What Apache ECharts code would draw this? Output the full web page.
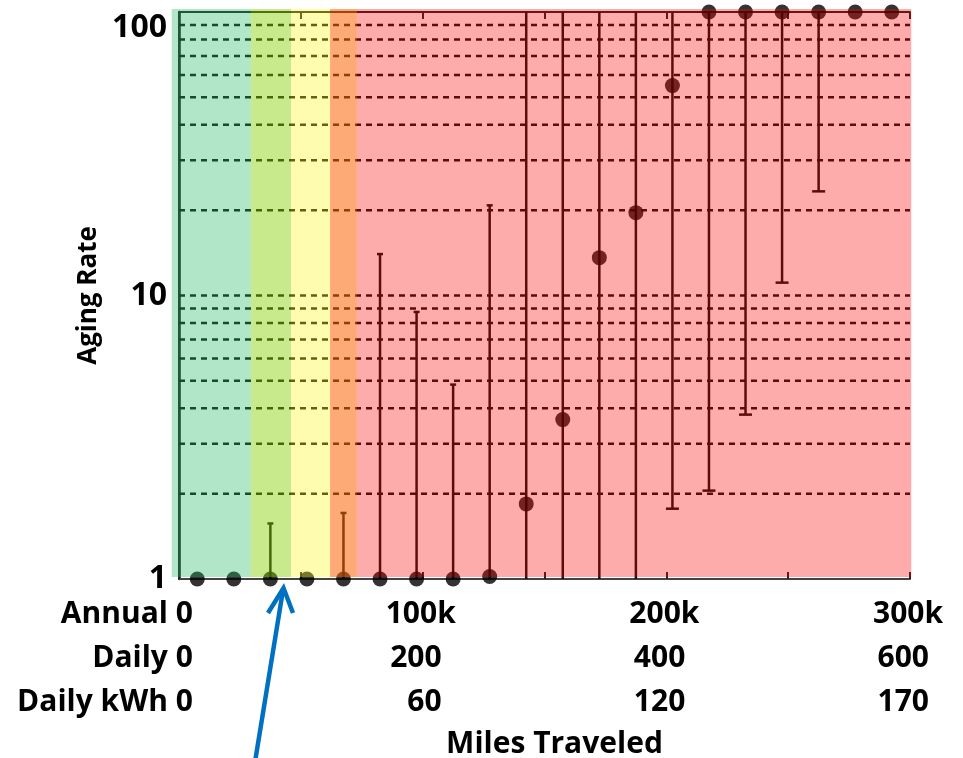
<!DOCTYPE html>
<html><head><meta charset="utf-8">
<script src="https://cdn.jsdelivr.net/npm/echarts@6/dist/echarts.min.js"></script>
<style>html,body{margin:0;padding:0;background:#fff}#c{width:963px;height:758px}</style>
</head><body><div id="c"></div>
<script>
// Miles traveled per year (thousands), bin centres
const milesK = [7.5,22.5,37.5,52.5,67.5,82.5,97.5,112.5,127.5,142.5,157.5,172.5,187.5,202.5,217.5,232.5,247.5,262.5,277.5,292.5];
const agingRate = [1,1,1,1,1,1,1,1,1.02,1.84,3.65,13.6,19.6,55,100,100,100,100,100,100];
const upperBound = [1,1,1.57,1,1.71,14,8.75,4.85,20.8,100,100,100,100,100,100,100,100,100,100,100];
const lowerBound = [1,1,1,1,1,1,1,1,1,1,1,1,1,1.77,2.05,3.8,11.1,23.3,100,100];
// tick label rows (at 0, 100k, 200k, 300k)
const annualLabels = ['0','100k','200k','300k'];
const dailyLabels = ['0','200','400','600'];
const kwhLabels = ['0','60','120','170'];
const yTickLabels = ['1','10','100'];
const gridValues = [2,3,4,5,6,7,8,9,10,20,30,40,50,60,70,80,90];
// colour zones (thousand miles)
const zoneStartK = [-3, 29.5, 46, 62, 73];
const zoneEndK = [29.5, 46, 62, 73, 300.5];
const zoneColors = ['rgba(35,184,101,0.35)','rgba(135,208,0,0.45)','rgba(252,250,26,0.35)','rgba(251,100,6,0.55)','rgba(249,0,0,0.33)'];

const FONT = 'Open Sans';
const txt = {fontFamily: FONT, fontWeight: 'bold', fontSize: 30, color: '#000', lineHeight: 44};

const chart = echarts.init(document.getElementById('c'), null, {renderer: 'canvas'});
chart.setOption({
  animation: false,
  grid: {left: 179, right: 53, top: 12, bottom: 179, outerBoundsMode: 'none'},
  xAxis: [{
    type: 'value', min: 0, max: 300, interval: 50, position: 'bottom',
    axisLine: {show: true, lineStyle: {color: '#444', width: 2}},
    axisTick: {show: true, inside: true, length: 7, lineStyle: {color: '#222', width: 2}},
    splitLine: {show: false},
    axisLabel: {
      margin: 13, ...txt,
      formatter: function (v) {
        if (v % 100 !== 0) return '';
        const i = v / 100;
        if (i === 0) {
          return '{z|Annual ' + annualLabels[0] + '}{p| }\n{z|Daily ' + dailyLabels[0] + '}{p| }\n{z|Daily kWh ' + kwhLabels[0] + '}{p| }';
        }
        return '{a|' + annualLabels[i] + '}\n{b|' + dailyLabels[i] + '}{s| }\n{b|' + kwhLabels[i] + '}{s| }';
      },
      rich: {
        z: {...txt, align: 'right'},
        p: {...txt, width: 148, align: 'right'},
        a: {...txt, width: 74, align: 'left'},
        b: {...txt, align: 'right'},
        s: {...txt, width: 18, align: 'right'}
      }
    },
    name: 'Miles Traveled', nameLocation: 'middle', nameGap: 150,
    nameTextStyle: {fontFamily: FONT, fontWeight: 'bold', fontSize: 30, color: '#000', padding: [0, 0, 0, 20]}
  }, {
    type: 'value', min: 0, max: 300, interval: 50, position: 'top',
    axisLine: {show: true, lineStyle: {color: '#222', width: 2}},
    axisTick: {show: true, inside: true, length: 7, lineStyle: {color: '#222', width: 2}},
    axisLabel: {show: false}, splitLine: {show: false}
  }],
  yAxis: [{
    type: 'log', logBase: 10, min: 1, max: 100,
    axisLine: {show: true, lineStyle: {color: '#111', width: 2.5}},
    axisTick: {show: false}, splitLine: {show: false}, minorTick: {show: false},
    axisLabel: {margin: 12, fontFamily: FONT, fontWeight: 'bold', fontSize: 32, color: '#000',
      verticalAlignMaxLabel: 'top',
      formatter: function (v) { const i = Math.round(Math.log10(v)); return yTickLabels[i] || ''; }},
    name: 'Aging Rate', nameLocation: 'middle', nameGap: 72,
    nameTextStyle: {fontFamily: FONT, fontWeight: 'bold', fontSize: 26, color: '#000'}
  }, {
    type: 'log', logBase: 10, min: 1, max: 100, position: 'right',
    axisLine: {show: true, lineStyle: {color: '#222', width: 2}},
    axisTick: {show: false}, axisLabel: {show: false}, splitLine: {show: false}
  }],
  graphic: [
    {type: 'polyline', z: 100, shape: {points: [[255, 762], [283, 590]]}, style: {stroke: '#0070C0', lineWidth: 4.5, fill: null}},
    {type: 'polyline', z: 100, shape: {points: [[268, 613], [283.5, 588], [293, 613]]}, style: {stroke: '#0070C0', lineWidth: 4.5, fill: null, lineJoin: 'miter'}}
  ],
  series: [
    { // dashed grid lines
      type: 'custom', z: 1, silent: true, clip: false,
      data: gridValues.map(v => [0, v]),
      encode: {x: 0, y: 1},
      renderItem: function (params, api) {
        const v = api.value(1);
        const p0 = api.coord([0, v]);
        const p1 = api.coord([300, v]);
        return {type: 'line', shape: {x1: p0[0], y1: p0[1], x2: p1[0], y2: p1[1]},
          style: {stroke: '#111', lineWidth: 2.5, lineDash: [6, 5]}};
      }
    },
    { // error bars
      type: 'custom', z: 2, silent: true, clip: false,
      data: milesK.map((m, i) => [m, lowerBound[i], upperBound[i]]),
      encode: {x: 0, y: [1, 2]},
      renderItem: function (params, api) {
        const x = api.value(0), lo = api.value(1), hi = api.value(2);
        if (hi <= lo) return null;
        const pHi = api.coord([x, hi]);
        const pLo = api.coord([x, lo]);
        const st = {stroke: '#111', lineWidth: 2.5};
        const ch = [{type: 'line', shape: {x1: pLo[0], y1: pLo[1], x2: pHi[0], y2: pHi[1]}, style: st}];
        if (hi < 100) ch.push({type: 'line', shape: {x1: pHi[0] - 3, y1: pHi[1], x2: pHi[0] + 3, y2: pHi[1]}, style: st});
        if (lo > 1) ch.push({type: 'line', shape: {x1: pLo[0] - 6.5, y1: pLo[1], x2: pLo[0] + 6.5, y2: pLo[1]}, style: st});
        return {type: 'group', children: ch};
      }
    },
    { // points
      type: 'scatter', z: 3, clip: false, silent: true,
      symbol: 'circle', symbolSize: 15,
      itemStyle: {color: '#000'},
      data: milesK.map((m, i) => [m, agingRate[i]])
    },
    { // translucent colour zones over everything
      type: 'custom', z: 10, silent: true, clip: false,
      data: zoneStartK.map((s, i) => [s, zoneEndK[i]]),
      encode: {x: [0, 1]},
      renderItem: function (params, api) {
        const p0 = api.coord([api.value(0), 102.5]);
        const p1 = api.coord([api.value(1), 1.016]);
        return {type: 'rect', shape: {x: p0[0], y: p0[1], width: p1[0] - p0[0], height: p1[1] - p0[1]},
          style: {fill: zoneColors[params.dataIndex]}};
      }
    }
  ]
});
</script>
</body></html>
